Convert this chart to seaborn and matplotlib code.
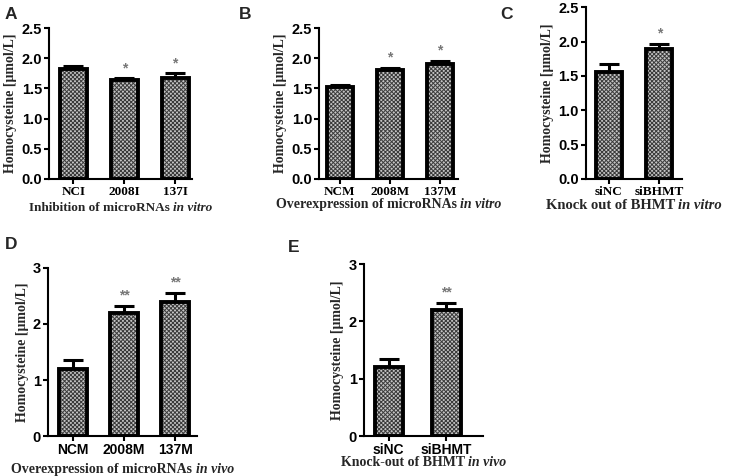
import matplotlib
matplotlib.use("Agg")
import matplotlib.pyplot as plt
import seaborn as sns
import pandas as pd
import numpy as np

sns.set_theme(style="ticks")
plt.rcParams['font.family'] = ['Liberation Sans', 'DejaVu Sans']
plt.rcParams['hatch.linewidth'] = 0.7

# ---- data ----
a_cats = ["NCI", "2008I", "137I"]
a_vals = [1.82, 1.64, 1.68]
a_errs = [0.06, 0.03, 0.07]
a_sig = ["", "*", "*"]

b_cats = ["NCM", "2008M", "137M"]
b_vals = [1.53, 1.81, 1.90]
b_errs = [0.03, 0.03, 0.06]
b_sig = ["", "*", "*"]

c_cats = ["siNC", "siBHMT"]
c_vals = [1.56, 1.89]
c_errs = [0.12, 0.07]
c_sig = ["", "*"]

d_cats = ["NCM", "2008M", "137M"]
d_vals = [1.20, 2.20, 2.40]
d_errs = [0.15, 0.12, 0.15]
d_sig = ["", "**", "**"]

e_cats = ["siNC", "siBHMT"]
e_vals = [1.20, 2.20]
e_errs = [0.15, 0.12]
e_sig = ["", "**"]

ylabel = "Homocysteine [μmol/L]"

fig = plt.figure(figsize=(7.35, 4.76), dpi=100)

panels = [
    ("A", a_cats, a_vals, a_errs, a_sig, [0.0667, 0.624, 0.195, 0.317], (-0.48, 2.34), 0.53,
     2.5, [0, 0.5, 1.0, 1.5, 2.0, 2.5], "{:.1f}", ("Inhibition of microRNAs ", "in vitro"), True, (0.006, 0.97), -0.19, 9.5),
    ("B", b_cats, b_vals, b_errs, b_sig, [0.434, 0.624, 0.189, 0.317], (-0.42, 2.36), 0.52,
     2.5, [0, 0.5, 1.0, 1.5, 2.0, 2.5], "{:.1f}", ("Overexpression of microRNAs ", "in vitro"), True, (0.325, 0.97), -0.17, 10),
    ("C", c_cats, c_vals, c_errs, c_sig, [0.797, 0.624, 0.131, 0.361], (-0.455, 1.45), 0.51,
     2.5, [0, 0.5, 1.0, 1.5, 2.0, 2.5], "{:.1f}", ("Knock out of BHMT ", "in vitro"), True, (0.681, 0.97), -0.155, 10.5),
    ("D", d_cats, d_vals, d_errs, d_sig, [0.0653, 0.084, 0.203, 0.353], (-0.49, 2.43), 0.55,
     3, [0, 1, 2, 3], "{:d}", ("Overexpression of microRNAs ", "in vivo"), False, (0.006, 0.487), -0.20, 10),
    ("E", e_cats, e_vals, e_errs, e_sig, [0.495, 0.084, 0.162, 0.361], (-0.43, 1.63), 0.49,
     3, [0, 1, 2, 3], "{:d}", ("Knock-out of BHMT ", "in vivo"), False, (0.392, 0.48), -0.155, 10),
]

label_pairs = []
for (letter, cats, vals, errs, sig, rect, xlim, width, ymax, yticks, yfmt,
     xlab, serif_ticks, lpos, xlab_y, xlab_fs) in panels:
    ax = fig.add_axes(rect)
    df = pd.DataFrame({"cat": cats, "val": vals})
    # textured fill
    sns.barplot(data=df, x="cat", y="val", ax=ax, color="#c4c4c4", width=width,
                edgecolor="#3a3a3a", linewidth=0, hatch="xxxxxxxx", errorbar=None,
                saturation=1)
    # error bars (upper only)
    xs = np.arange(len(cats))
    ax.errorbar(xs, vals, yerr=[np.zeros(len(errs)), errs], fmt="none",
                ecolor="black", elinewidth=2.2, capsize=7, capthick=2.2, zorder=1)
    # outline
    sns.barplot(data=df, x="cat", y="val", ax=ax, fill=False, width=width,
                edgecolor="black", linewidth=2.8, errorbar=None)
    for p in ax.patches:
        p.set_zorder(3)
    # significance marks
    for x, v, e, s in zip(xs, vals, errs, sig):
        if s:
            ax.text(x, v + e + ymax * 0.02, s, ha="center", va="bottom",
                    color="#777777", fontsize=10, fontweight="bold",
                    family="Liberation Sans")
    ax.set_xlim(*xlim)
    ax.set_ylim(0, ymax)
    ax.set_yticks(yticks)
    ax.set_yticklabels([yfmt.format(t) for t in yticks], fontsize=10.5,
                       fontweight="bold", family="Liberation Sans")
    ax.set_xticks(xs)
    if serif_ticks:
        ax.set_xticklabels(cats, fontsize=9.5, fontweight="bold",
                           family="Liberation Serif")
    else:
        ax.set_xticklabels(cats, fontsize=10, fontweight="bold",
                           family="Liberation Sans")
    ax.set_xlabel("")
    ax.set_ylabel(ylabel, fontsize=10, fontweight="bold",
                  family="Liberation Serif", labelpad=3)
    # x label: upright bold part + bold italic part
    t1 = ax.text(0.5, xlab_y, xlab[0], transform=ax.transAxes, ha="left",
                 va="center", fontsize=xlab_fs, fontweight="bold",
                 family="Liberation Serif")
    t2 = ax.text(0.5, xlab_y, xlab[1], transform=ax.transAxes, ha="left",
                 va="center", fontsize=xlab_fs, fontweight="bold", style="italic",
                 family="Liberation Serif")
    label_pairs.append((ax, t1, t2))
    for sp in ["top", "right"]:
        ax.spines[sp].set_visible(False)
    for sp in ["left", "bottom"]:
        ax.spines[sp].set_linewidth(1.5)
        ax.spines[sp].set_color("black")
    ax.tick_params(axis="both", direction="out", width=1.5, color="black",
                   length=3.5, pad=1.5, colors="black")
    fig.text(lpos[0], lpos[1], letter, fontsize=12.5, fontweight="bold",
             family="Liberation Sans", ha="left", va="center")

# center the two-part x labels
fig.canvas.draw()
r = fig.canvas.get_renderer()
for ax, t1, t2 in label_pairs:
    w1 = t1.get_window_extent(r).width
    w2 = t2.get_window_extent(r).width
    axbb = ax.get_window_extent(r)
    cx = axbb.x0 + axbb.width / 2
    x0 = cx - (w1 + w2) / 2
    inv = ax.transAxes.inverted()
    t1.set_x(inv.transform((x0, 0))[0])
    t2.set_x(inv.transform((x0 + w1, 0))[0])

fig.savefig("out.png", dpi=100)
